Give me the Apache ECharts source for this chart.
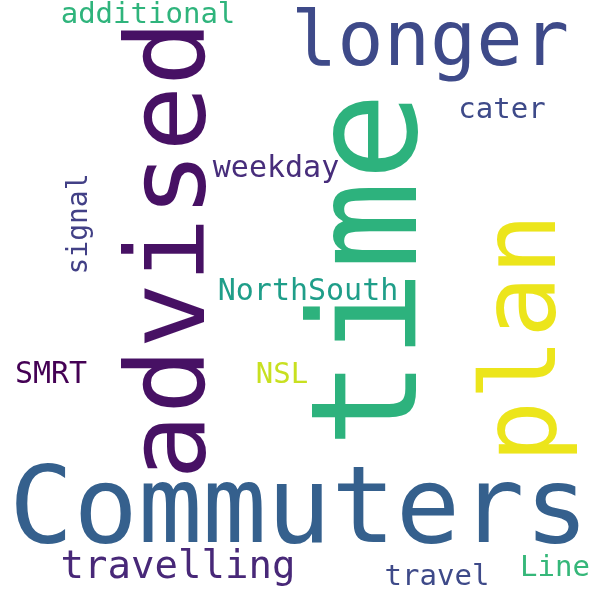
<!DOCTYPE html>
<html>
<head>
<meta charset="utf-8">
<script src="https://cdn.jsdelivr.net/npm/echarts@6/dist/echarts.min.js"></script>
<style>html,body{margin:0;background:#fff}#chart{width:600px;height:600px}</style>
</head>
<body>
<div id="chart"></div>
<script>
// Word cloud: each word placed by its centre on a hidden 0-600 value axis
const words = ['Commuters', 'time', 'advised', 'plan', 'longer', 'additional', 'cater', 'weekday',
    'signal', 'NorthSouth', 'SMRT', 'NSL', 'travelling', 'travel', 'Line'];
const xs = [299, 378, 176, 528, 430, 148, 502, 276, 80, 308, 51, 282, 178, 437, 555];
const ys = [514, 270, 250, 338, 45, 15, 110, 169, 224, 292, 375, 375, 568, 577, 568];
const sizes = [107, 148, 109, 104, 77, 29, 29, 30, 28, 30, 30, 29, 39, 29, 29];
const rotations = [0, 90, 90, 90, 0, 0, 0, 0, 90, 0, 0, 0, 0, 0, 0];
const colors = ['#35608d', '#2db27d', '#471164', '#ece51b', '#3e4a89', '#2fb47c', '#3e4a89', '#472d7b',
    '#424086', '#1f9e89', '#440154', '#c8e020', '#482878', '#3e4a89', '#35b779'];

const chart = echarts.init(document.getElementById('chart'));
const data = words.map(function(w, i) {
    return {
        value: [xs[i], ys[i]],
        name: w,
        label: {
            show: true,
            formatter: w,
            fontSize: sizes[i],
            rotate: rotations[i],
            color: colors[i],
            opacity: 1
        }
    };
});

chart.setOption({
    backgroundColor: '#fff',
    animation: false,
    grid: { left: 0, right: 0, top: 0, bottom: 0 },
    xAxis: { type: 'value', min: 0, max: 600, show: false },
    yAxis: { type: 'value', min: 0, max: 600, inverse: true, show: false },
    series: [{
        type: 'scatter',
        symbolSize: 0,
        itemStyle: { opacity: 1 },
        label: {
            position: 'inside',
            align: 'center',
            verticalAlign: 'middle',
            fontFamily: 'DejaVu Sans Mono'
        },
        data: data
    }]
});
</script>
</body>
</html>
